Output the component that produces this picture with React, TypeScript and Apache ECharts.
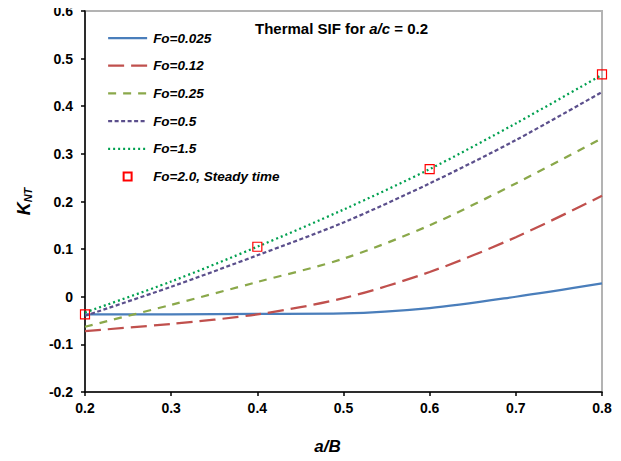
import React, { useEffect, useRef } from "react";
import * as echarts from "echarts";

const xValues = [0.2, 0.3, 0.4, 0.5, 0.6, 0.7, 0.8];
const fo0025 = [-0.037, -0.037, -0.036, -0.035, -0.024, 0.0, 0.028];
const fo012 = [-0.072, -0.057, -0.037, -0.003, 0.052, 0.125, 0.212];
const fo025 = [-0.063, -0.017, 0.031, 0.08, 0.15, 0.238, 0.333];
const fo05 = [-0.04, 0.021, 0.087, 0.156, 0.238, 0.329, 0.43];
const fo15 = [-0.033, 0.032, 0.105, 0.183, 0.268, 0.364, 0.466];
const steadyX = [0.2, 0.4, 0.6, 0.8];
const steadyY = [-0.037, 0.105, 0.268, 0.467];

const seriesNames = ["Fo=0.025", "Fo=0.12", "Fo=0.25", "Fo=0.5", "Fo=1.5", "Fo=2.0, Steady time"];

const FONT = "'Liberation Sans', Arial, sans-serif";

function pairs(xs: number[], ys: number[]) {
  return xs.map((x, i) => [x, ys[i]]);
}

export default function App() {
  const ref = useRef<HTMLDivElement>(null);
  useEffect(() => {
    if (!ref.current) return;
    const chart = echarts.init(ref.current, null, { renderer: "svg" });
    const lineSeries = (name: string, ys: number[], color: string, type: any) => ({
      name,
      type: "line",
      data: pairs(xValues, ys),
      smooth: 0.3,
      showSymbol: false,
      symbol: "none",
      lineStyle: { color, width: 2.25, type },
      itemStyle: { color },
      z: 2,
    });
    chart.setOption({
      animation: false,
      backgroundColor: "#ffffff",
      textStyle: { fontFamily: FONT },
      title: {
        text: "{n|Thermal SIF for }{i|a/c}{n| = 0.2}",
        left: 250,
        top: 16,
        textStyle: {
          rich: {
            n: { fontFamily: FONT, fontWeight: "bold", fontSize: 15, color: "#000" },
            i: { fontFamily: FONT, fontWeight: "bold", fontStyle: "italic", fontSize: 15, color: "#000" },
          },
        },
      },
      legend: {
        orient: "vertical",
        left: 102,
        top: 26,
        itemWidth: 39,
        itemHeight: 10,
        itemGap: 13.7,
        data: seriesNames.map((n, i) =>
          i < 5 ? { name: n, itemStyle: { opacity: 0 }, lineStyle: { width: 2.25 } } : { name: n }
        ),
        textStyle: {
          fontFamily: FONT,
          fontWeight: "bold",
          fontStyle: "italic",
          fontSize: 13.5,
          color: "#000",
          padding: [0, 0, 0, 1],
        },
      },
      grid: {
        left: 85,
        right: 19,
        top: 11,
        bottom: 69,
        show: true,
        borderColor: "#b3b3b3",
        borderWidth: 2,
        backgroundColor: "transparent",
      },
      xAxis: {
        type: "value",
        min: 0.2,
        max: 0.8,
        interval: 0.1,
        name: "a/B",
        nameLocation: "middle",
        nameGap: 46,
        nameTextStyle: {
          fontFamily: FONT,
          fontWeight: "bold",
          fontStyle: "italic",
          fontSize: 17,
          color: "#000",
          padding: [0, 32, 0, 0],
        },
        axisLine: { show: true, onZero: false, lineStyle: { color: "#000", width: 1.5 } },
        axisTick: { show: true, length: 4, lineStyle: { color: "#000", width: 1.5 } },
        axisLabel: {
          margin: 9,
          fontFamily: FONT,
          fontWeight: "bold",
          fontSize: 14,
          color: "#000",
          formatter: (v: number) => v.toFixed(1),
        },
        splitLine: { show: false },
      },
      yAxis: {
        type: "value",
        min: -0.2,
        max: 0.6,
        interval: 0.1,
        name: "{k|K}{s|NT}",
        nameLocation: "middle",
        nameRotate: 90,
        nameGap: 52,
        nameTextStyle: {
          rich: {
            k: { fontFamily: FONT, fontWeight: "bold", fontStyle: "italic", fontSize: 18, color: "#000" },
            s: { fontFamily: FONT, fontWeight: "bold", fontStyle: "italic", fontSize: 11, color: "#000", padding: [8, 0, 0, 0] },
          },
        },
        axisLine: { show: true, onZero: false, lineStyle: { color: "#000", width: 1.5 } },
        axisTick: { show: true, length: 4, lineStyle: { color: "#000", width: 1.5 } },
        axisLabel: {
          margin: 12,
          fontFamily: FONT,
          fontWeight: "bold",
          fontSize: 14,
          color: "#000",
          formatter: (v: number) => (Math.abs(v) < 1e-9 ? "0" : v.toFixed(1)),
        },
        splitLine: { show: false },
      },
      series: [
        lineSeries(seriesNames[0], fo0025, "#4a7ebb", "solid"),
        lineSeries(seriesNames[1], fo012, "#c0504d", [16, 7]),
        lineSeries(seriesNames[2], fo025, "#8aa84a", [8, 7]),
        lineSeries(seriesNames[3], fo05, "#5b4f8c", [4, 2.5]),
        lineSeries(seriesNames[4], fo15, "#00a050", [2, 3]),
        {
          name: seriesNames[5],
          type: "line",
          data: pairs(steadyX, steadyY),
          symbol: "rect",
          symbolSize: 9,
          showSymbol: true,
          lineStyle: { width: 0, opacity: 0 },
          itemStyle: { color: "rgba(255,255,255,0)", borderColor: "#ff0000", borderWidth: 1.2 },
          z: 5,
        },
      ],
    });
    return () => chart.dispose();
  }, []);
  return <div ref={ref} style={{ width: 621, height: 461, margin: -8 }} />;
}
